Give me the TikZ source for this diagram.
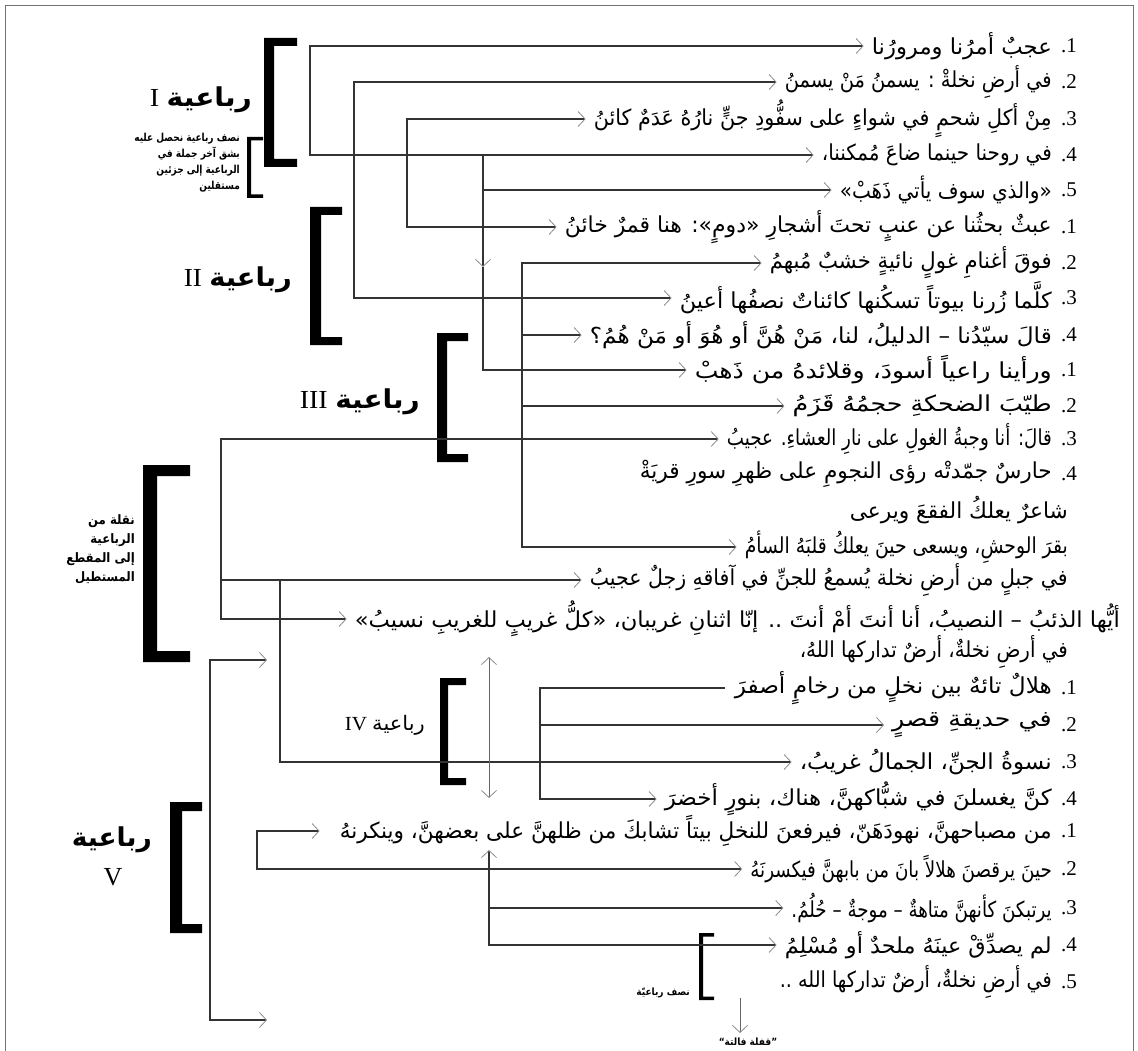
\documentclass[tikz,border=0pt]{standalone}
\usepackage{graphicx}
\usepackage{fontspec}
\setmainfont{Liberation Serif}
\newfontfamily\arf[Script=Arabic]{DejaVu Sans}
\TeXXeTstate=1
\usetikzlibrary{arrows.meta}
\newsavebox\tlbox
% fitted text: target width, text ; natural size, horizontally fitted within limits
\newcommand\fitbox[2]{%
  \sbox\tlbox{\fontsize{22}{25}\selectfont\arf #2}%
  \pgfmathsetmacro\tlrat{max(0.83,min(1.15,#1/\the\wd\tlbox))}%
  \scalebox{\tlrat}[1]{\usebox\tlbox}}
% name, left x, right x, y, text
\newcommand\tline[5]{\node[txt,anchor=east] (#1) at (#3,#4) {\fitbox{(#3-#2)}{#5}};}
\newcommand\numl[3]{\node[num,anchor=east] (#1) at (1077,#2) {#3};}
% bracket: left x, arm x, top y, bottom y, vertical thickness, arm thickness
\newcommand\brk[6]{\fill[black] (#2,#3) -- (#1,#3) -- (#1,#4) -- (#2,#4) -- (#2,#4-#6) -- (#1+#5,#4-#6) -- (#1+#5,#3+#6) -- (#2,#3+#6) -- cycle;}
\begin{document}
\begin{tikzpicture}[x=1pt,y=-1pt,
  >={Straight Barb[length=7pt,width=15pt,line width=0.8pt,color=black!45]},
  conn/.style={draw=black!80,line width=1.3pt},
  thinl/.style={draw=black!60,line width=0.8pt},
  txt/.style={inner sep=0pt},
  num/.style={inner sep=0pt,font=\fontsize{21}{24}\selectfont},
  lab/.style={inner sep=0pt,font=\fontsize{26}{30}\selectfont},
  note/.style={inner sep=0pt,align=right,transform shape,xscale=0.82,font=\bfseries\fontsize{11}{16}\selectfont}]
\useasboundingbox (0,0) rectangle (1138,1051);
\fill[white] (0,0) rectangle (1138,1051);
\draw[black!55,line width=0.8pt] (5,1051) -- (5,5) -- (1133,5) -- (1133,1051);

% ---------- stanza I ----------
\tline{t1}{872}{1052}{46}{\beginR عجبٌ أمرُنا ومرورُنا\endR}
\tline{t2}{785}{1052}{82}{\beginR في أرضِ نخلةْ : يسمنُ مَنْ يسمنُ\endR}
\tline{t3}{594}{1052}{119}{\beginR مِنْ أكلِ شحمٍ في شواءٍ على سفُّودِ جنٍّ نارُهُ عَدَمٌ كائنُ\endR}
\tline{t4}{822}{1052}{155}{\beginR في روحنا حينما ضاعَ مُمكننا،\endR}
\tline{t5}{840}{1052}{190}{\beginR «والذي سوف يأتي ذَهَبْ»\endR}
\numl{n11}{46}{.1}\numl{n12}{82}{.2}\numl{n13}{119}{.3}\numl{n14}{155}{.4}\numl{n15}{190}{.5}
% ---------- stanza II ----------
\tline{u1}{565}{1052}{227}{\beginR عبثٌ بحثُنا عن عنبٍ تحتَ أشجارِ «دومٍ»: هنا قمرٌ خائنُ\endR}
\tline{u2}{770}{1052}{263}{\beginR فوقَ أغنامِ غولٍ نائيةٍ خشبٌ مُبهمُ\endR}
\tline{u3}{680}{1052}{298}{\beginR كلَّما زُرنا بيوتاً تسكُنها كائناتٌ نصفُها أعينُ\endR}
\tline{u4}{590}{1052}{335}{\beginR قالَ سيّدُنا – الدليلُ، لنا، مَنْ هُنَّ أو هُوَ أو مَنْ هُمُ؟\endR}
\numl{n21}{227}{.1}\numl{n22}{263}{.2}\numl{n23}{298}{.3}\numl{n24}{335}{.4}
% ---------- stanza III ----------
\tline{v1}{695}{1052}{370}{\beginR ورأينا راعياً أسودَ، وقلائدهُ من ذَهبْ\endR}
\tline{v2}{775}{1052}{406}{\beginR طيّبَ الضحكةِ حجمُهُ قَزَمُ\endR}
\tline{v3}{728}{1052}{439}{\beginR قالَ: أنا وجبةُ الغولِ على نارِ العشاءِ. عجيبُ\endR}
\tline{v4}{640}{1052}{474}{\beginR حارسٌ جمّدتْه رؤى النجومِ على ظهرِ سورِ قريَةْ\endR}
\numl{n31}{370}{.1}\numl{n32}{406}{.2}\numl{n33}{439}{.3}\numl{n34}{474}{.4}
\tline{s1}{850}{1068}{510}{\beginR شاعرٌ يعلكُ الفقعَ ويرعى\endR}
\tline{s2}{745}{1068}{547}{\beginR بقرَ الوحشِ، ويسعى حينَ يعلكُ قلبَهُ السأمُ\endR}
\tline{s3}{590}{1068}{580}{\beginR في جبلٍ من أرضِ نخلة يُسمعُ للجنِّ في آفاقهِ زجلٌ عجيبُ\endR}
\tline{s4}{355}{1120}{619}{\beginR أيُّها الذئبُ – النصيبُ، أنا أنتَ أمْ أنتَ .. إنّا اثنانِ غريبان، «كلُّ غريبٍ للغريبِ نسيبُ»\endR}
\tline{s5}{800}{1068}{652}{\beginR في أرضِ نخلةٌ، أرضٌ تداركها اللهُ،\endR}
% ---------- stanza IV ----------
\tline{w1}{735}{1052}{688}{\beginR هلالٌ تائهٌ بين نخلٍ من رخامٍ أصفرَ\endR}
\tline{w2}{880}{1052}{725}{\beginR في حديقةِ قصرٍ\endR}
\tline{w3}{800}{1052}{762}{\beginR نسوةُ الجنِّ، الجمالُ غريبُ،\endR}
\tline{w4}{665}{1052}{799}{\beginR كنَّ يغسلنَ في شبُّاكهنَّ، هناك، بنورٍ أخضرَ\endR}
\numl{n41}{688}{.1}\numl{n42}{725}{.2}\numl{n43}{762}{.3}\numl{n44}{799}{.4}
% ---------- stanza V ----------
\tline{x1}{340}{1052}{831}{\beginR من مصباحهنَّ، نهودَهَنّ، فيرفعنَ للنخلِ بيتاً تشابكَ من ظلهنَّ على بعضهنَّ، وينكرنهُ\endR}
\tline{x2}{770}{1052}{869}{\beginR حينَ يرقصنَ هلالاً بانَ من بابهنَّ فيكسرنَهُ\endR}
\tline{x3}{800}{1052}{908}{\beginR يرتبكنَ كأنهنَّ متاهةٌ – موجةٌ – حُلُمُ.\endR}
\tline{x4}{785}{1052}{945}{\beginR لم يصدِّقْ عينَهُ ملحدٌ أو مُسْلِمُ\endR}
\tline{x5}{780}{1052}{982}{\beginR في أرضِ نخلةٌ، أرضٌ تداركها الله ..\endR}
\numl{n51}{831}{.1}\numl{n52}{869}{.2}\numl{n53}{908}{.3}\numl{n54}{945}{.4}\numl{n55}{982}{.5}

% ---------- brackets ----------
\brk{264}{297}{38}{167}{10}{8}
\brk{247}{263}{137}{198}{4}{3.5}
\brk{310}{342}{207}{345}{11}{8}
\brk{437}{468}{333}{462}{10}{8}
\brk{143}{190}{465}{662}{14}{11}
\brk{440}{466}{678}{785}{8}{7}
\brk{170}{202}{802}{933}{12}{9}
\brk{699}{714}{933}{1000}{4}{3.5}

% ---------- labels ----------
\node[lab,anchor=east] (lI) at (252,100) {\resizebox{102pt}{\height}{I\hspace{7pt}{\arf\bfseries\beginR رباعية\endR}}};
\node[lab,anchor=east] (lII) at (292,280) {\resizebox{108pt}{\height}{II\hspace{7pt}{\arf\bfseries\beginR رباعية\endR}}};
\node[lab,anchor=east] (lIII) at (420,402) {\resizebox{120pt}{\height}{III\hspace{7pt}{\arf\bfseries\beginR رباعية\endR}}};
\node[lab,anchor=east,font=\fontsize{20}{22}\selectfont] (lIV) at (425,725) {\resizebox{80pt}{\height}{IV\hspace{5pt}{\arf\beginR رباعية\endR}}};
\node[lab,anchor=east] (lV) at (152,840) {\resizebox{80pt}{\height}{\arf\bfseries\beginR رباعية\endR}};
\node[lab] (lV2) at (113,877) {V};
\node[note,anchor=north east] (nI) at (240,133) {\arf\beginR نصف رباعية نحصل عليه\endR\\\arf\beginR بشق آخر جملة في\endR\\\arf\beginR الرباعية إلى جزئين\endR\\\arf\beginR مستقلين\endR};
\node[note,anchor=north east,xscale=1.1,font=\bfseries\fontsize{13}{19}\selectfont] (nN) at (135,514) {\arf\beginR نقلة من\endR\\\arf\beginR الرباعية\endR\\\arf\beginR إلى المقطع\endR\\\arf\beginR المستطيل\endR};
\node[note,anchor=east,xscale=1.1,font=\bfseries\fontsize{10}{12}\selectfont] (nH) at (690,993) {\arf\beginR نصف رباعيّة\endR};
\node[note,anchor=center,xscale=1.1,font=\bfseries\fontsize{10}{12}\selectfont] (nQ) at (748,1042) {\arf\beginR ”قفلة فالتة“\endR};

% ---------- chevron end points ----------
\foreach \n in {t1,t2,t3,t4,t5,u1,u2,u3,u4,v1,v2,v3,s2,s3,s4,w2,w3,w4,x2,x3,x4}
  \coordinate (p\n) at ([xshift=-8pt]\n.west);
\coordinate (px1) at ([xshift=-20pt]x1.west);
\coordinate (pw1) at ([xshift=-10pt]w1.west);
\coordinate (h1) at (267,660);
\coordinate (h2) at (267,1020);

% ---------- connectors ----------
\draw[conn,<->] (pt1) -| (310,155) -- (pt4);
\draw[conn,<->] (pt2) -| (354,298) -- (pu3);
\draw[conn,<->] (pt3) -| (407,227) -- (pu1);
\draw[conn,->] (483,155) |- (pt5);
\draw[conn,->] (483,190) -- (483,267);
\draw[conn,->] (483,267) |- (pv1);
\draw[conn,<->] (pu2) -| (522,547) -- (ps2);
\draw[conn,->] (522,335) -- (pu4);
\draw[conn,->] (522,406) -- (pv2);
\draw[conn,<->] (pv3) -| (221,619) -- (ps4);
\draw[conn,->] (221,580) -- (ps3);
\draw[conn,->] (280,580) |- (pw3);
\draw[conn,->] (pw1) -| (540,799) -- (pw4);
\draw[conn,->] (540,725) -- (pw2);
\draw[thinl,<->] (489,657) -- (489,798);
\draw[conn,<->] (h1) -- (210,660) -- (210,1020) -- (h2);
\draw[conn,<->] (px1) -| (257,869) -- (px2);
\draw[conn,<->] (489,850) |- (px4);
\draw[conn,->] (489,908) -- (px3);
\draw[thinl,->] (740,998) -- (740,1033);
\end{tikzpicture}
\end{document}
